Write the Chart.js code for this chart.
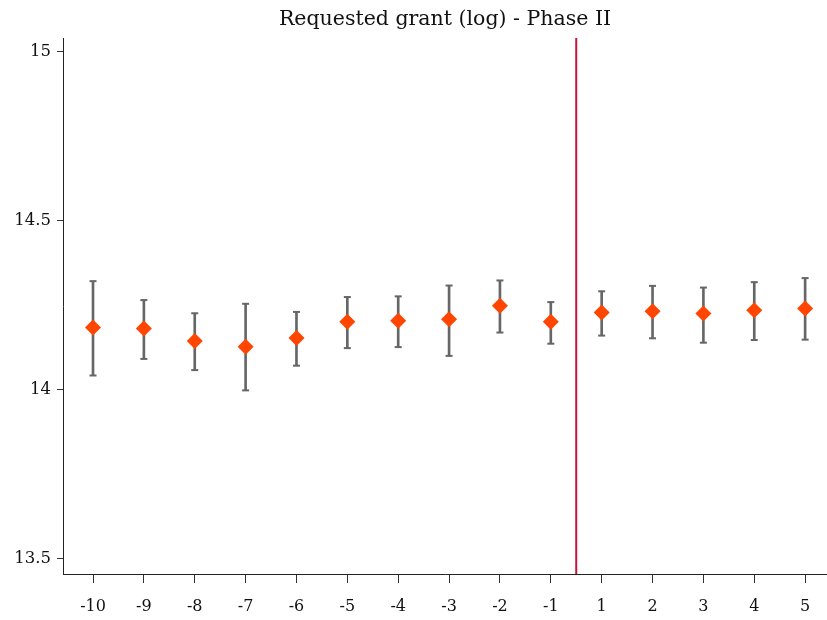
<!DOCTYPE html>
<html>
<head>
<meta charset="utf-8">
<script src="https://cdn.jsdelivr.net/npm/chart.js@4"></script>
<style>
  body { margin: 0; background: #fff; }
  #wrap { width: 827px; height: 620px; position: relative; }
</style>
</head>
<body>
<div id="wrap"><canvas id="eventChart"></canvas></div>
<script>
// event time labels
let periods = ["-10", "-9", "-8", "-7", "-6", "-5", "-4", "-3", "-2", "-1", "1", "2", "3", "4", "5"];
// point estimates and 95% CI
let estimate = [14.184, 14.181, 14.144, 14.127, 14.153, 14.201, 14.204, 14.208, 14.248, 14.201, 14.228, 14.232, 14.225, 14.235, 14.240];
let ciLow = [14.042, 14.091, 14.058, 13.998, 14.071, 14.123, 14.126, 14.100, 14.169, 14.136, 14.160, 14.152, 14.139, 14.147, 14.148];
let ciHigh = [14.321, 14.265, 14.226, 14.254, 14.230, 14.274, 14.276, 14.308, 14.323, 14.259, 14.291, 14.307, 14.302, 14.318, 14.330];
let yTicks = [13.5, 14, 14.5, 15];
let treatLine = 9.5; // between -1 and 1

let yMin = 13.455, yMax = 15.04;
let serif = "'DejaVu Serif', 'Liberation Serif', serif";

let pts = estimate.map((v, i) => ({ x: i, y: v }));
let bars = estimate.map((v, i) => ({ x: i, y: [ciLow[i], ciHigh[i]] }));
let caps = [];
ciLow.forEach((v, i) => { caps.push({ x: i, y: v }); caps.push({ x: i, y: ciHigh[i] }); });

// title centred over the plot area
let titlePlugin = {
    id: "plotTitle",
    afterDraw(chart) {
        let c = chart.ctx, a = chart.chartArea;
        c.save();
        c.font = "20.5px " + serif;
        c.fillStyle = "#111";
        c.textAlign = "center";
        c.textBaseline = "middle";
        c.fillText("Requested grant (log) - Phase II", (a.left + a.right) / 2, 20);
        c.restore();
    }
};

let ctx = document.getElementById("eventChart").getContext("2d");
let chart = new Chart(ctx, {
    type: "scatter",
    data: {
        datasets: [
            {
                type: "scatter",
                data: pts,
                pointStyle: "rectRot",
                pointRadius: 8,
                pointHoverRadius: 8,
                backgroundColor: "#FF4500",
                borderColor: "#FF4500",
                borderWidth: 0,
                order: 0
            },
            {
                type: "scatter",
                data: caps,
                pointStyle: "line",
                pointRadius: 3.5,
                borderColor: "#666",
                borderWidth: 2,
                order: 1
            },
            {
                type: "bar",
                data: bars,
                backgroundColor: "#666",
                barThickness: 2,
                order: 2
            },
            {
                type: "line",
                data: [{ x: treatLine, y: yMin }, { x: treatLine, y: yMax }],
                borderColor: "#C8143C",
                borderWidth: 2,
                pointRadius: 0,
                order: 3
            }
        ]
    },
    options: {
        responsive: true,
        maintainAspectRatio: false,
        animation: false,
        layout: { autoPadding: false, padding: { top: 38, left: 0, right: 0, bottom: 0 } },
        plugins: {
            legend: { display: false },
            tooltip: { enabled: false }
        },
        scales: {
            x: {
                type: "linear",
                offset: false,
                min: -0.59,
                max: 14.43,
                afterBuildTicks: s => { s.ticks = periods.map((p, i) => ({ value: i })); },
                afterFit: s => { s.height = 46; s.paddingLeft = 0; s.paddingRight = 0; },
                ticks: {
                    callback: (v) => periods[v],
                    font: { family: serif, size: 16 },
                    color: "#111",
                    padding: 14,
                    maxRotation: 0,
                    autoSkip: false
                },
                grid: { offset: false, drawOnChartArea: false, drawTicks: true, tickLength: 9, color: "#333", lineWidth: 1 },
                border: { color: "#222", width: 1 }
            },
            y: {
                min: yMin,
                max: yMax,
                afterBuildTicks: s => { s.ticks = yTicks.map(v => ({ value: v })); },
                afterFit: s => { s.width = 63; },
                ticks: {
                    callback: v => String(v),
                    font: { family: serif, size: 16.5 },
                    color: "#111",
                    padding: 6
                },
                grid: { drawOnChartArea: false, drawTicks: true, tickLength: 6, color: "#333", lineWidth: 1 },
                border: { color: "#222", width: 1 }
            }
        }
    },
    plugins: [titlePlugin]
});
</script>
</body>
</html>
